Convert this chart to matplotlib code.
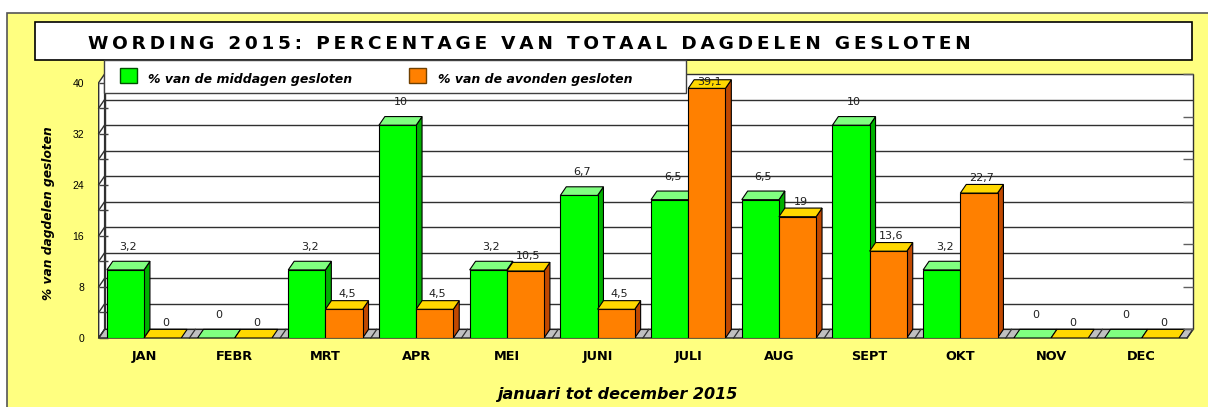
import matplotlib.pyplot as plt
from matplotlib.patches import Rectangle, Polygon
import numpy as np

# data
months = ["JAN", "FEBR", "MRT", "APR", "MEI", "JUNI", "JULI", "AUG", "SEPT", "OKT", "NOV", "DEC"]
middag = [3.2, 0, 3.2, 10, 3.2, 6.7, 6.5, 6.5, 10, 3.2, 0, 0]      # green, secondary axis 0-12
avond = [0, 0, 4.5, 4.5, 10.5, 4.5, 39.1, 19, 13.6, 22.7, 0, 0]     # orange, primary axis 0-40
middag_labels = ["3,2", "0", "3,2", "10", "3,2", "6,7", "6,5", "6,5", "10", "3,2", "0", "0"]
avond_labels = ["0", "0", "4,5", "4,5", "10,5", "4,5", "39,1", "19", "13,6", "22,7", "0", "0"]
y_max = 40
y2_max = 12
y_labelled = [0, 8, 16, 24, 32, 40]
grid_step = 4

title = "WORDING 2015: PERCENTAGE VAN TOTAAL DAGDELEN GESLOTEN"
legend_names = ["% van de middagen gesloten", "% van de avonden gesloten"]
xlabel = "januari tot december 2015"
ylabel = "% van dagdelen gesloten"

GREEN, GREEN_TOP, GREEN_SIDE = "#00FF00", "#80FF80", "#00B000"
ORANGE, ORANGE_TOP, ORANGE_SIDE = "#FF8000", "#FFD800", "#C04800"
YELLOW = "#FFFF80"

W, H = 1208, 407
fig = plt.figure(figsize=(W / 100, H / 100), dpi=100)
fig.patch.set_facecolor("white")


def fx(x):
    return x / W


def fy(y):
    return 1 - y / H


def box(x0, y0, x1, y1, **kw):
    fig.add_artist(Rectangle((fx(x0), fy(y1)), fx(x1) - fx(x0), fy(y0) - fy(y1),
                             transform=fig.transFigure, **kw))


# outer yellow chart area, title box, legend box
box(7, 13, 1230, 430, facecolor=YELLOW, edgecolor="#555555", lw=1.2, zorder=-5)
box(35, 22, 1192, 60, facecolor="white", edgecolor="black", lw=1.2, zorder=2)
box(104, 60, 686, 93, facecolor="white", edgecolor="#404040", lw=1, zorder=2)
box(120, 68, 137, 83, facecolor=GREEN, edgecolor="#005000", lw=1, zorder=3)
box(409, 68, 426, 83, facecolor=ORANGE, edgecolor="#704000", lw=1, zorder=3)

fig.text(fx(529), fy(49), "\u2009".join(title), ha="center", va="baseline",
         fontsize=13.3, fontweight="bold", family="DejaVu Sans", zorder=4)
fig.text(fx(148), fy(83), legend_names[0], ha="left", va="baseline", fontsize=9,
         fontweight="bold", style="italic", zorder=4)
fig.text(fx(438), fy(83), legend_names[1], ha="left", va="baseline", fontsize=9,
         fontweight="bold", style="italic", zorder=4)
fig.text(fx(617), fy(399), xlabel, ha="center", va="baseline", fontsize=11.5,
         fontweight="bold", style="italic")
fig.text(fx(49), fy(213), ylabel, ha="center", va="center", rotation=90,
         fontsize=8.8, fontweight="bold", style="italic")

# plot area (front axis at x=98.7px, back wall right edge at 1193px)
n = len(months)
DX = 0.065   # depth offset in category units
DY = 1.35    # depth offset in primary y units
DY2 = DY * y2_max / y_max
BAR_W = 0.41

ax = fig.add_axes([fx(98.7), fy(338), fx(1193) - fx(98.7), fy(74) - fy(338)])
ax.set_xlim(-0.5, n - 0.5 + DX)
ax.set_ylim(0, y_max + DY)
ax.patch.set_visible(False)
for s in ax.spines.values():
    s.set_visible(False)

ax2 = ax.twinx()
ax2.set_ylim(0, (y_max + DY) * y2_max / y_max)
for s in ax2.spines.values():
    s.set_visible(False)
ax2.set_yticks(np.arange(0, y2_max + 1, 2) + DY2)
ax2.set_yticklabels([])
ax2.tick_params(axis="y", direction="in", length=7.2, width=1, color="#606060")

# walls and floor
ax.add_patch(Rectangle((-0.5 + DX, DY), n, y_max, facecolor="white", edgecolor="#303030",
                       lw=1, clip_on=False, zorder=0.5))
ax.add_patch(Polygon([(-0.5, 0), (-0.5 + DX, DY), (-0.5 + DX, y_max + DY), (-0.5, y_max)],
                     closed=True, facecolor="white", edgecolor="#303030", lw=1,
                     clip_on=False, zorder=0.6))
ax.add_patch(Polygon([(-0.5, 0), (n - 0.5, 0), (n - 0.5 + DX, DY), (-0.5 + DX, DY)],
                     closed=True, facecolor="#C0C0C0", edgecolor="#202020", lw=1,
                     clip_on=False, zorder=0.7))
grid_vals = np.arange(grid_step, y_max, grid_step)
ax.hlines(grid_vals + DY, -0.5 + DX, n - 0.5 + DX, color="#303030", lw=1, zorder=0.55)
for v in grid_vals:
    ax.plot([-0.5, -0.5 + DX], [v, v + DY], color="#303030", lw=1, zorder=0.65, clip_on=False)
for b in np.arange(n + 1) - 0.5:
    ax.plot([b, b + DX], [0, DY], color="#303030", lw=0.9, zorder=0.75, clip_on=False)

ax.set_yticks(np.arange(0, y_max + 1, grid_step))
ax.set_yticklabels([str(int(t)) if t in y_labelled else "" for t in np.arange(0, y_max + 1, grid_step)],
                   family="Liberation Sans", fontsize=7.5)
ax.tick_params(axis="y", direction="in", length=6.5, width=1, color="#404040", pad=10.6)
ax.set_xticks(range(n))
ax.set_xticklabels(months, fontsize=9.3, fontweight="bold")
ax.tick_params(axis="x", length=0, pad=8.6)


def bar3d(x0, h, dy, face, top, side, trans):
    x1 = x0 + BAR_W
    if h > 0:
        ax.add_patch(Polygon([(x1, 0), (x1 + DX, dy), (x1 + DX, h + dy), (x1, h)], closed=True,
                             facecolor=side, edgecolor="black", lw=0.8, transform=trans, zorder=3))
        ax.add_patch(Rectangle((x0, 0), BAR_W, h, facecolor=face, edgecolor="black", lw=0.8,
                               transform=trans, zorder=3))
    ax.add_patch(Polygon([(x0, h), (x1, h), (x1 + DX, h + dy), (x0 + DX, h + dy)], closed=True,
                         facecolor=top, edgecolor="black", lw=0.8, transform=trans, zorder=3))


for i in range(n):
    bar3d(i - BAR_W, middag[i], DY2, GREEN, GREEN_TOP, GREEN_SIDE, ax2.transData)
    bar3d(i, avond[i], DY, ORANGE, ORANGE_TOP, ORANGE_SIDE, ax.transData)
    ax.annotate(middag_labels[i], (i - BAR_W / 2 + DX / 2, middag[i]), xycoords=ax2.transData,
                xytext=(0, 16.6), textcoords="offset points", ha="center", va="center",
                fontsize=8, color="#202020", zorder=5)
    # Excel pulls the top label back inside the plot area
    ax.annotate(avond_labels[i], (i + BAR_W / 2 + DX / 2, min(avond[i], 37.8)),
                xytext=(0, 10.8), textcoords="offset points", ha="center", va="center",
                fontsize=8, color="#202020", zorder=5)

fig.savefig("out.png", dpi=100)
